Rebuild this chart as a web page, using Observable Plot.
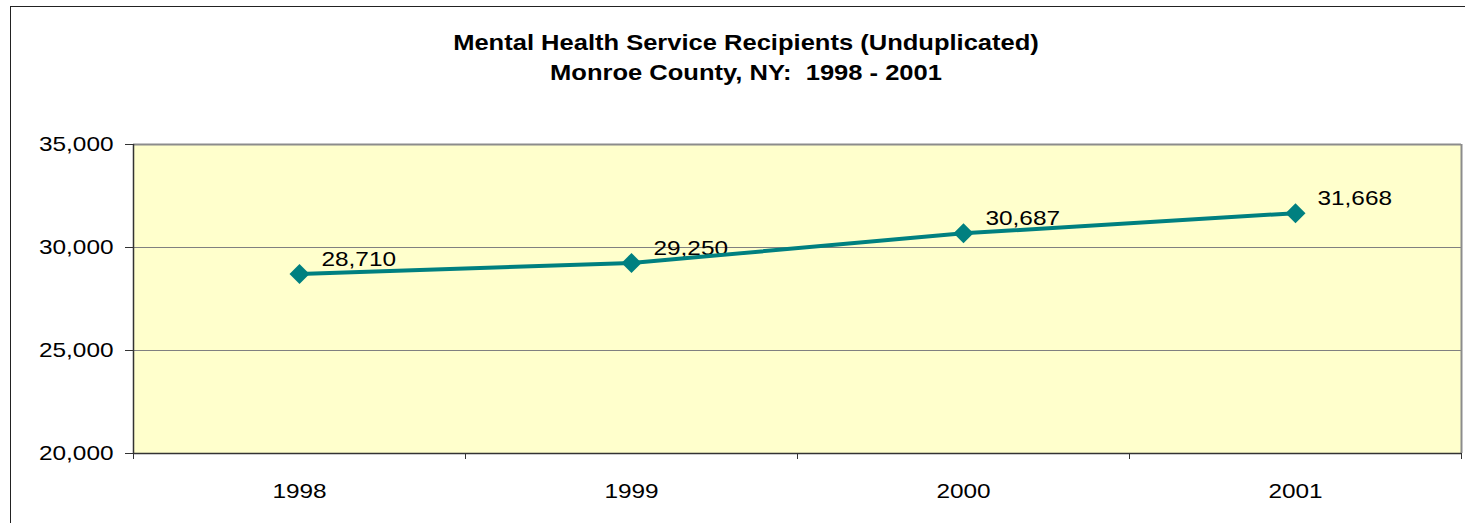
<!DOCTYPE html>
<html>
<head>
<meta charset="utf-8">
<script src="https://cdn.jsdelivr.net/npm/d3@7"></script>
<script src="https://cdn.jsdelivr.net/npm/@observablehq/plot@0.6"></script>
<style>
  html, body { margin: 0; padding: 0; background: #fff; }
  #wrap { position: relative; width: 1465px; height: 523px; overflow: hidden; font-family: "Liberation Sans", Arial, sans-serif; }
  #border { position: absolute; left: 10px; top: 6px; width: 1500px; height: 600px; border: 1.5px solid #222; box-sizing: border-box; }
  #title { position: absolute; left: 0; top: 28px; width: 1492px; text-align: center; font-weight: bold; font-size: 22px; line-height: 30px; white-space: pre; color: #000; transform: scaleX(1.16); transform-origin: 746px 0; }
  #chart { position: absolute; left: 0; top: 0; }
</style>
</head>
<body>
<div id="wrap">
  <div id="border"></div>
  <div id="chart"></div>
  <div id="title"></div>
</div>
<script>
const titleLines = ["Mental Health Service Recipients (Unduplicated)", "Monroe County, NY:  1998 - 2001"];
const years = [1998, 1999, 2000, 2001];
const recipients = [28710, 29250, 30687, 31668];
const yTicks = [20000, 25000, 30000, 35000];
const xBoundaries = [1997.5, 1998.5, 1999.5, 2000.5, 2001.5];

document.getElementById("title").textContent = titleLines.join("\n");

const data = years.map((y, i) => ({year: y, value: recipients[i]}));
const fmt = d3.format(",");

const chart = Plot.plot({
  width: 1465,
  height: 523,
  marginTop: 144,
  marginBottom: 70,
  marginLeft: 133,
  marginRight: 4,
  style: {fontFamily: "'Liberation Sans', Arial, sans-serif", background: "transparent", color: "#000"},
  x: {type: "linear", domain: [1997.5, 2001.5]},
  y: {domain: [20000, 35000]},
  marks: [
    Plot.frame({fill: "#FFFFCC", stroke: null}),
    Plot.gridY(yTicks, {stroke: "#808080", strokeOpacity: 1, strokeWidth: 1}),
    Plot.ruleY([35000], {stroke: "#8c8c8c", strokeWidth: 2}),
    Plot.ruleX([2001.5], {stroke: "#8c8c8c", strokeWidth: 2}),
    Plot.ruleY([20000], {stroke: "#333", strokeWidth: 1.5}),
    Plot.ruleX([1997.5], {stroke: "#333", strokeWidth: 1.5}),
    Plot.axisY({ticks: yTicks, tickSize: 8, tickPadding: 12, tickFormat: fmt, fontSize: 21, stroke: "#333", label: null}),
    Plot.axisX({ticks: xBoundaries, tickSize: 6, tickFormat: () => "", stroke: "#333", label: null}),
    Plot.axisX({ticks: years, tickSize: 0, tickPadding: 30, tickFormat: d => String(d), fontSize: 21, label: null}),
    Plot.text(data, {x: "year", y: "value", text: d => fmt(d.value), dx: 22, dy: -15, textAnchor: "start", fontSize: 21, fill: "#000"}),
    Plot.line(data, {x: "year", y: "value", stroke: "#008080", strokeWidth: 4}),
    Plot.dot(data, {x: "year", y: "value", symbol: "diamond2", r: 9, fill: "#008080", stroke: null})
  ]
});
document.getElementById("chart").appendChild(chart);

// widen glyphs horizontally to match the reference's stretched Arial
chart.querySelectorAll("text").forEach(t => {
  const s = t.textContent;
  if (!s) return;
  const w = t.getComputedTextLength();
  if (w > 0) {
    t.setAttribute("textLength", (w * 1.16).toFixed(1));
    t.setAttribute("lengthAdjust", "spacingAndGlyphs");
  }
});
</script>
</body>
</html>
